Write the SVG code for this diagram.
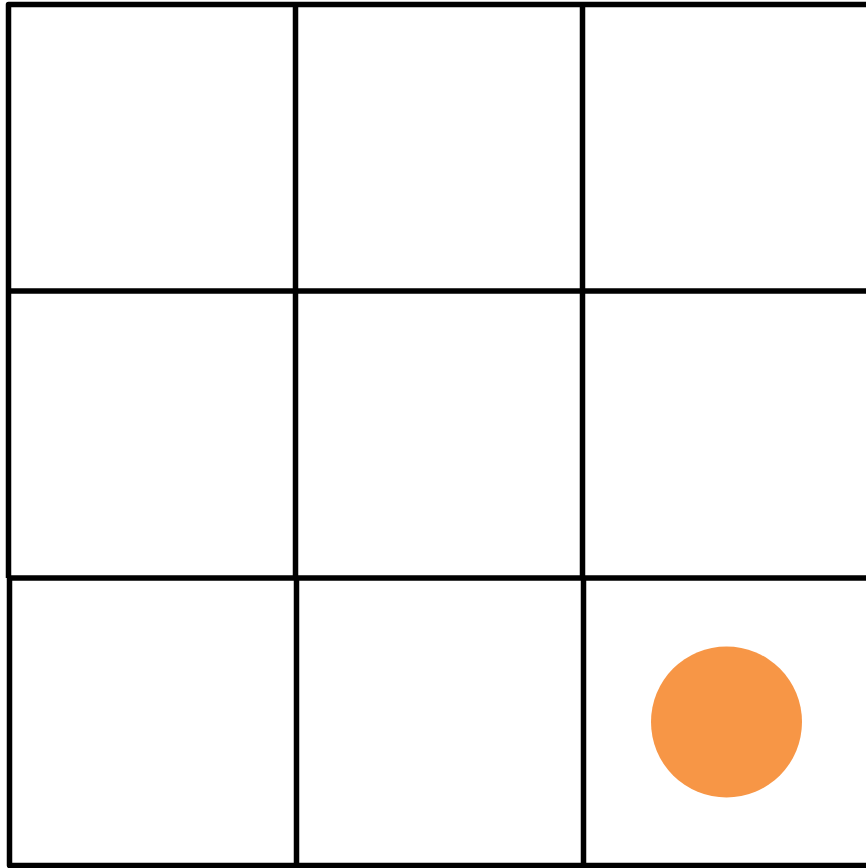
<svg xmlns="http://www.w3.org/2000/svg" width="866" height="868" viewBox="0 0 866 868">
<style>
.g{fill:none;stroke:#000;stroke-width:5.5;stroke-linejoin:round;stroke-linecap:butt}
</style>
<rect width="866" height="868" fill="#fff"/>
<g id="grid">
<path class="g" d="M8.5,578 V4.5 H866"/>
<path class="g" d="M295.5,4.5 V578 M582.5,4.5 V578"/>
<path class="g" d="M8.5,291 H866 M8.5,578 H866"/>
<path class="g" d="M9.5,578 V865.5 H866"/>
<path class="g" d="M296.5,578 V865.5 M583.5,578 V865.5"/>
</g>
<g id="agent">
<circle cx="726.5" cy="722" r="75.5" fill="#f79646"/>
</g>
</svg>
